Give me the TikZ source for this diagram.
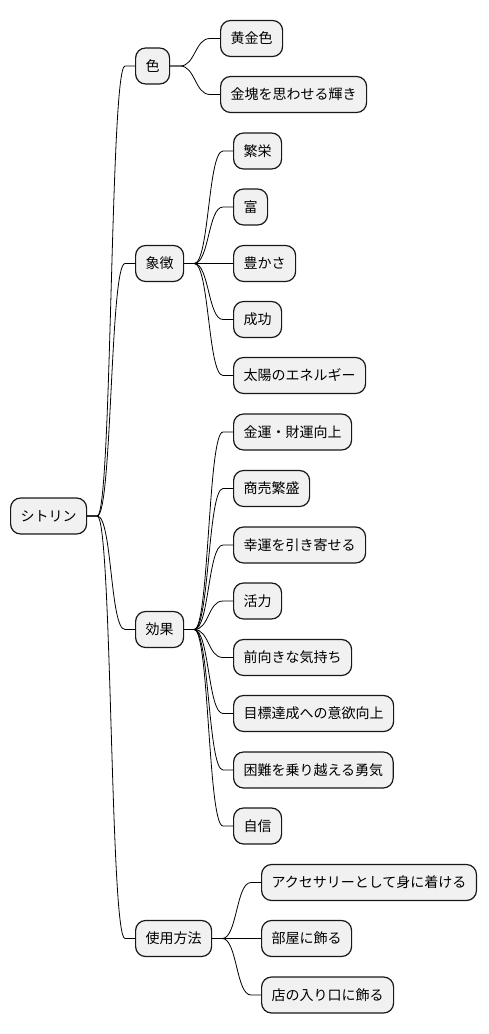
\documentclass[tikz,border=0pt]{standalone}
\usepackage{fontspec}
\setmainfont{Noto Sans CJK JP}
\usetikzlibrary{calc}
\definecolor{boxfill}{HTML}{F1F1F1}
\definecolor{boxline}{HTML}{181818}
\tikzset{
  mmnode/.style={draw=boxline, fill=boxfill, line width=1.2pt, rounded corners=10pt,
    minimum height=36pt, inner xsep=10pt, inner ysep=0pt, anchor=west,
    font=\fontsize{14pt}{16pt}\selectfont},
  mmlink/.style={draw=black, line width=0.8pt,
    to path={(\tikztostart) -- ($(\tikztostart)+(10,0)$)
      .. controls ($(\tikztostart)+(25,0)$) and ($(\tikztotarget)+(-25,0)$)
      .. ($(\tikztotarget)+(-10,0)$) -- (\tikztotarget)}}
}
\begin{document}
\begin{tikzpicture}[x=1pt,y=-1pt]
\useasboundingbox (0,0) rectangle (488,1034);
\node[mmnode] (root) at (10,516) {シトリン};
\node[mmnode] (c1) at (135,66) {色};
\node[mmnode] (c2) at (135,263.5) {象徴};
\node[mmnode] (c3) at (135,629.5) {効果};
\node[mmnode] (c4) at (135,938.5) {使用方法};
% 色
\node[mmnode] (a1) at (220,38.5) {黄金色};
\node[mmnode] (a2) at (220,94.5) {金塊を思わせる輝き};
% 象徴
\node[mmnode] (b1) at (233,151) {繁栄};
\node[mmnode] (b2) at (233,207) {富};
\node[mmnode] (b3) at (233,263.5) {豊かさ};
\node[mmnode] (b4) at (233,319.5) {成功};
\node[mmnode] (b5) at (233,375.5) {太陽のエネルギー};
% 効果
\node[mmnode] (e1) at (233,432) {金運・財運向上};
\node[mmnode] (e2) at (233,488.5) {商売繁盛};
\node[mmnode] (e3) at (233,545) {幸運を引き寄せる};
\node[mmnode] (e4) at (233,601) {活力};
\node[mmnode] (e5) at (233,657.5) {前向きな気持ち};
\node[mmnode] (e6) at (233,713.5) {目標達成への意欲向上};
\node[mmnode] (e7) at (233,770) {困難を乗り越える勇気};
\node[mmnode] (e8) at (233,826) {自信};
% 使用方法
\node[mmnode] (u1) at (261,882.5) {アクセサリーとして身に着ける};
\node[mmnode] (u2) at (261,938.5) {部屋に飾る};
\node[mmnode] (u3) at (261,995) {店の入り口に飾る};
% links
\foreach \c in {c1,c2,c3,c4} \draw[mmlink] (root.east) to (\c.west);
\foreach \c in {a1,a2} \draw[mmlink] (c1.east) to (\c.west);
\foreach \c in {b1,b2,b3,b4,b5} \draw[mmlink] (c2.east) to (\c.west);
\foreach \c in {e1,e2,e3,e4,e5,e6,e7,e8} \draw[mmlink] (c3.east) to (\c.west);
\foreach \c in {u1,u2,u3} \draw[mmlink] (c4.east) to (\c.west);
\end{tikzpicture}
\end{document}
